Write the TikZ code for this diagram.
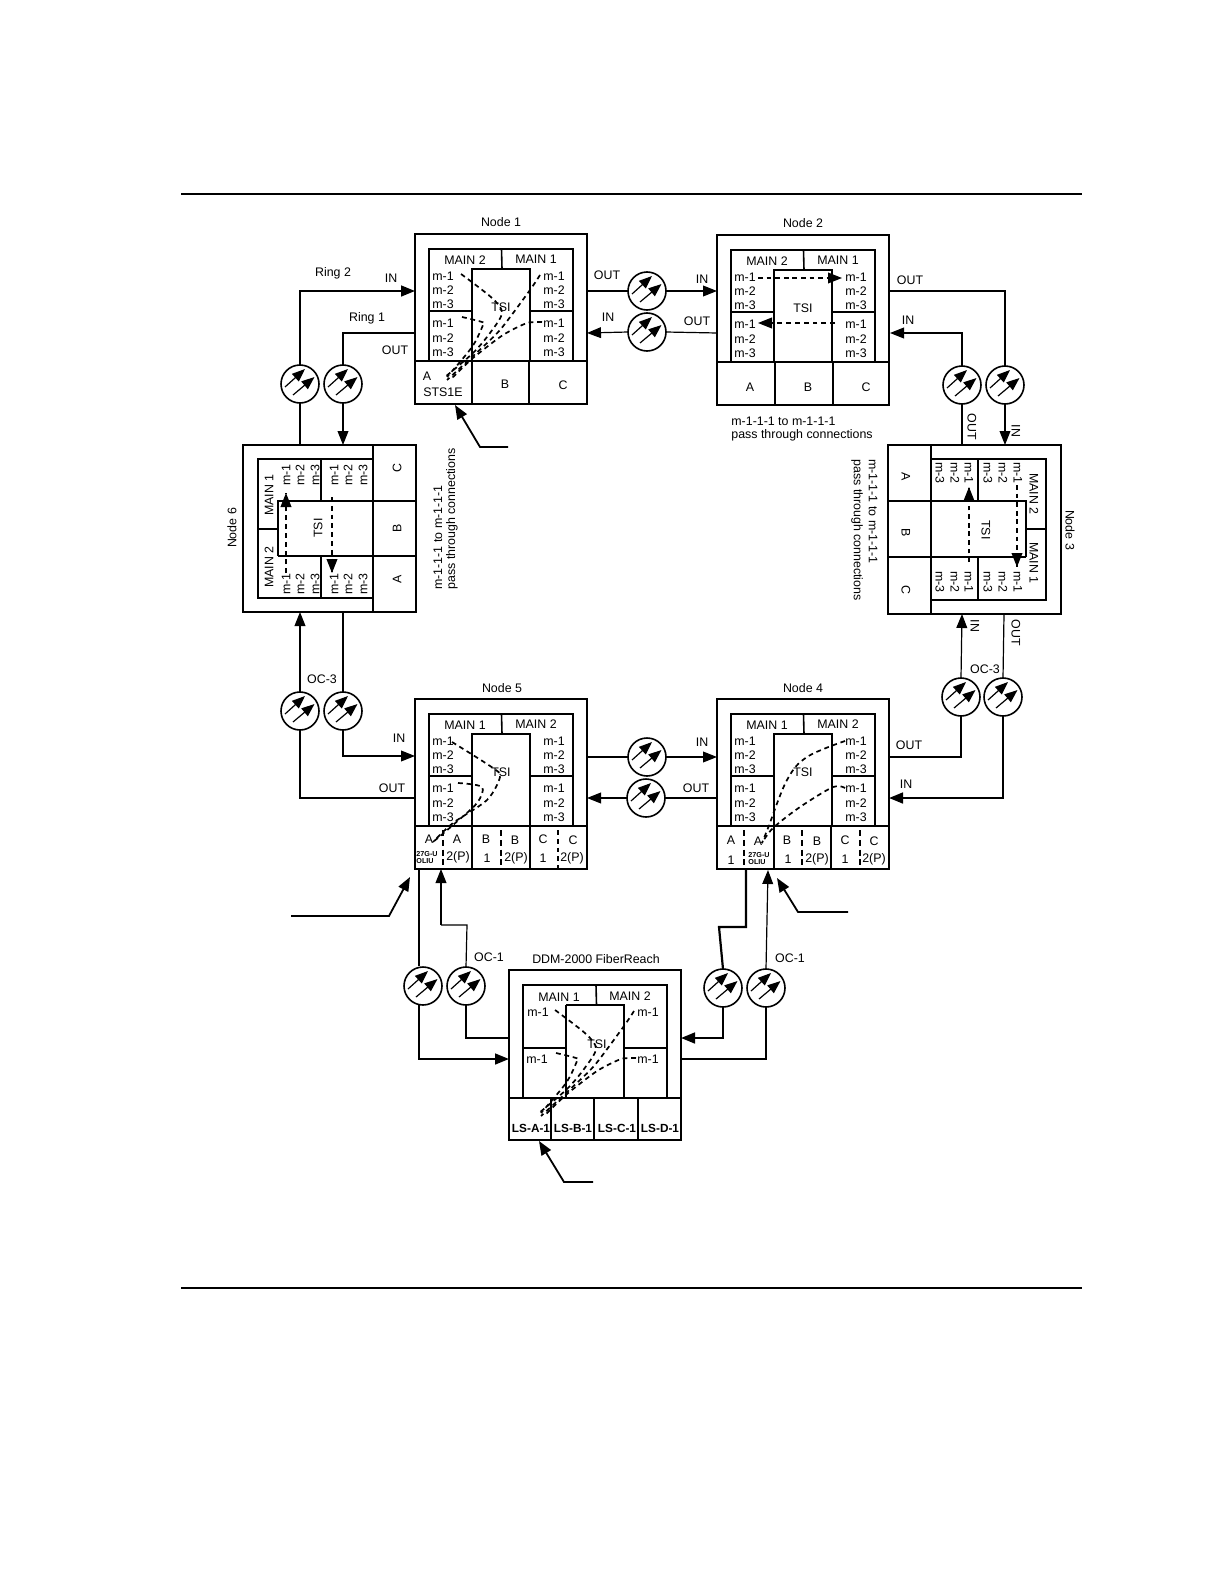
\documentclass[tikz,border=0pt]{standalone}
\usepackage{fontspec}
\setmainfont{Liberation Sans}
\usetikzlibrary{arrows.meta}
\tikzset{
  x=0.5pt,y=-0.5pt,
  lab/.style={inner sep=0pt,font=\fontsize{6.2}{7}\selectfont},
  tiny/.style={inner sep=0pt,font=\fontsize{3.6}{4}\selectfont\bfseries,align=left},
  lsl/.style={inner sep=0pt,font=\fontsize{5.9}{7}\selectfont\bfseries},
  frame/.style={draw,line width=1pt,minimum width=86pt,minimum height=85pt,inner sep=0pt,outer sep=0pt},
  thinln/.style={line width=0.55pt},
  midln/.style={line width=0.8pt},
  boldln/.style={line width=1.1pt},
  optic/.style={draw,circle,line width=0.8pt,minimum size=19pt,inner sep=0pt,outer sep=0pt},
  hd/.style={-{Triangle[length=7pt,width=5.4pt]}},
  rd/.style={{Triangle[length=7pt,width=5.4pt]}-},
  wire/.style={line width=0.6pt},
  heavy/.style={line width=1.1pt},
  dsh/.style={line width=0.85pt,dash pattern=on 2.4pt off 1.9pt},
  dshthin/.style={line width=0.55pt,dash pattern=on 2.4pt off 2pt},
  dshbold/.style={line width=1pt,dash pattern=on 3pt off 1.9pt},
  callout/.style={line width=0.9pt,-{Triangle[length=7pt,width=5.4pt]}}
}
\newcommand{\optic}[3]{%
  \node[optic] (#1) at (#2,#3) {};
  \begin{scope}[shift={(#2,#3)}]
    \draw[line width=0.6pt,-{Triangle[length=6.5pt,width=5pt]}] (-15,3) -- (5,-15);
    \draw[line width=0.6pt,-{Triangle[length=6.5pt,width=5pt]}] (-7,11) -- (14.5,-7);
  \end{scope}}
% standard unit: name, x, y, left main, right main
\newcommand{\unit}[5]{%
  \begin{scope}[shift={(#2,#3)}]
    \node[frame] (#1) at (86,85) {};
    \draw[midln] (14,127) -- (14,15) -- (158,15) -- (158,127);
    \draw[boldln] (0,127) -- (172,127);
    \draw[boldln] (57,127) -- (57,35) -- (115,35) -- (115,127);
    \draw[midln] (14,77) -- (57,77) (115,77) -- (158,77);
    \draw[midln] (86.5,15) -- (87,35);
    \node[lab] (#1ml) at (50,26) {#4};
    \node[lab] (#1mr) at (121,25) {#5};
    \node[lab] (#1t) at (86,73) {TSI};
  \end{scope}}
\newcommand{\mcols}[3]{%
  \begin{scope}[shift={(#2,#3)}]
    \node[lab] (#1a) at (28,42) {m-1};
    \node[lab] (#1b) at (28,56) {m-2};
    \node[lab] (#1c) at (28,70) {m-3};
    \node[lab] (#1d) at (28,89) {m-1};
    \node[lab] (#1e) at (28,104) {m-2};
    \node[lab] (#1f) at (28,118) {m-3};
    \node[lab] (#1g) at (139,42) {m-1};
    \node[lab] (#1h) at (139,56) {m-2};
    \node[lab] (#1i) at (139,70) {m-3};
    \node[lab] (#1j) at (139,89) {m-1};
    \node[lab] (#1k) at (139,104) {m-2};
    \node[lab] (#1l) at (139,118) {m-3};
  \end{scope}}
\newcommand{\fourdash}[2]{%
  \begin{scope}[shift={(#1,#2)}]
    \draw[dsh] plot[smooth,tension=0.5] coordinates {(46,40) (77,64) (87,79) (75,99) (58,119) (30,143)};
    \draw[dsh] plot[smooth,tension=0.5] coordinates {(47,83) (67,88) (68,91) (57,113) (32,143)};
    \draw[dsh] plot[smooth,tension=0.4] coordinates {(125,41) (115,56) (85,96) (57,123) (32,146)};
    \draw[dsh] plot[smooth,tension=0.4] coordinates {(127,88) (112,89) (88,101) (58,124) (35,146)};
  \end{scope}}
\begin{document}
\begin{tikzpicture}
\path[use as bounding box,fill=white] (0,0) rectangle (1224,1584);
% page rules
\coordinate (rta) at (181,194); \coordinate (rtb) at (1082,194);
\coordinate (rba) at (181,1288); \coordinate (rbb) at (1082,1288);
\draw[line width=0.9pt] (rta) -- (rtb);
\draw[line width=0.9pt] (rba) -- (rbb);

%% Node 1
\unit{na}{415}{234}{MAIN 2}{MAIN 1}
\mcols{ma}{415}{234}
\draw[boldln] (472,361) -- (472,403) (529,361) -- (529,403);
\node[lab] (nat) at (501,222) {Node 1};
\node[lab] (naA) at (427,376) {A};
\node[lab] (naS) at (443,392) {STS1E};
\node[lab] (naB) at (505,384) {B};
\node[lab] (naC) at (563,385) {C};
\fourdash{415}{234}

%% Node 2
\unit{nb}{717}{235}{MAIN 2}{MAIN 1}
\mcols{mb}{717}{235}
\draw[boldln] (775,363) -- (775,405);
\draw[midln] (833,363) -- (833,405);
\node[lab] (nbt) at (803,223) {Node 2};
\node[lab] (nbA) at (750,387) {A};
\node[lab] (nbB) at (808,387) {B};
\node[lab] (nbC) at (866,387) {C};
\coordinate (dba) at (758,278); \coordinate (dbb) at (842,278);
\coordinate (dbc) at (835,323); \coordinate (dbd) at (758,323);
\draw[dsh] (dba) -- (dbb);
\draw[-{Triangle[length=7pt,width=5.4pt]},line width=0.6pt] (dbb) ++(-12,0) -- (dbb);
\draw[dshthin] (dbc) -- (dbd);
\draw[-{Triangle[length=7pt,width=5.4pt]},line width=0.6pt] (dbd) ++(12,0) -- (dbd);
\node[lab,anchor=west] (nbn1) at (731,421) {m-1-1-1 to m-1-1-1};
\node[lab,anchor=west] (nbn2) at (731,435) {pass through connections};

%% Node 5
\unit{ne}{415}{699}{MAIN 1}{MAIN 2}
\mcols{me}{415}{699}
\draw[boldln] (472,827) -- (472,869) (530,827) -- (530,869);
\coordinate (d5a) at (443,830); \coordinate (d5b) at (443,869);
\coordinate (d5c) at (501,830); \coordinate (d5d) at (501,869);
\coordinate (d5e) at (558,830); \coordinate (d5f) at (558,869);
\draw[dshbold] (d5a) -- (d5b);
\draw[dshbold] (d5c) -- (d5d);
\draw[dshthin] (d5e) -- (d5f);
\node[lab] (neA) at (429,839) {A};
\node[lab] (neAb) at (457,839) {A};
\node[tiny] (neO) at (427,858) {27G-U\\[-0.5pt]OLIU};
\node[lab] (neP) at (458,857) {2(P)};
\node[lab] (neB) at (486,839) {B};
\node[lab] (ne1) at (487,858) {1};
\node[lab] (neBb) at (515,840) {B};
\node[lab] (neP2) at (516,858) {2(P)};
\node[lab] (neC) at (543,839) {C};
\node[lab] (ne2) at (543,858) {1};
\node[lab] (neCb) at (573,840) {C};
\node[lab] (neP3) at (572,858) {2(P)};
\node[lab] (net) at (502,688) {Node 5};
\draw[dsh] plot[smooth,tension=0.5] coordinates {(452,742) (493,768) (500,777) (487,800) (453,823) (433,842)};
\draw[dsh] plot[smooth,tension=0.5] coordinates {(458,783) (482,787) (477,803) (453,825) (433,842)};

%% Node 4
\unit{nd}{717}{699}{MAIN 1}{MAIN 2}
\mcols{md}{717}{699}
\draw[boldln] (774,827) -- (774,870);
\draw[midln] (831,827) -- (831,870);
\coordinate (d4a) at (744,830); \coordinate (d4b) at (744,870);
\coordinate (d4c) at (802,830); \coordinate (d4d) at (802,870);
\coordinate (d4e) at (860,830); \coordinate (d4f) at (860,870);
\draw[dshbold] (d4a) -- (d4b);
\draw[dshbold] (d4c) -- (d4d);
\draw[dshbold] (d4e) -- (d4f);
\node[lab] (ndA) at (731,840) {A};
\node[lab] (nd1) at (731,860) {1};
\node[lab] (ndAb) at (758,841) {A};
\node[tiny] (ndO) at (759,859) {27G-U\\[-0.5pt]OLIU};
\node[lab] (ndB) at (787,840) {B};
\node[lab] (nd2) at (788,859) {1};
\node[lab] (ndBb) at (817,841) {B};
\node[lab] (ndP) at (817,859) {2(P)};
\node[lab] (ndC) at (845,840) {C};
\node[lab] (nd3) at (845,859) {1};
\node[lab] (ndCb) at (874,841) {C};
\node[lab] (ndP2) at (874,859) {2(P)};
\node[lab] (ndt) at (803,688) {Node 4};
\draw[dsh] plot[smooth,tension=0.6] coordinates {(845,741) (807,757) (787,780) (768,828) (762,843)};
\draw[dsh] plot[smooth,tension=0.5] coordinates {(845,788) (833,787) (800,807) (773,828) (762,843)};

%% FiberReach
\begin{scope}[shift={(509,970)}]
  \node[frame] (nf) at (86,85) {};
  \draw[midln] (14,128) -- (14,15) -- (158,15) -- (158,128);
  \draw[boldln] (0,128) -- (172,128);
  \draw[midln] (57,128) -- (57,35);
  \draw[boldln] (57,35) -- (115,35) -- (115,128);
  \draw[thinln] (14,78) -- (57,78) (115,78) -- (158,78);
  \draw[midln] (87,15) -- (87.5,35);
  \draw[midln] (42,128) -- (42,170) (85,128) -- (85,170) (129,128) -- (129,170);
  \node[lab] (nfml) at (50,27) {MAIN 1};
  \node[lab] (nfmr) at (121,26) {MAIN 2};
  \node[lab] (nft) at (88,74) {TSI};
  \node[lab] (mfa) at (29,42) {m-1};
  \node[lab] (mfb) at (28,89) {m-1};
  \node[lab] (mfc) at (139,42) {m-1};
  \node[lab] (mfd) at (139,89) {m-1};
  \node[lsl] (lsa) at (22,158) {LS-A-1};
  \node[lsl] (lsb) at (64,158) {LS-B-1};
  \node[lsl] (lsc) at (108,158) {LS-C-1};
  \node[lsl] (lsd) at (151,158) {LS-D-1};
\end{scope}
\fourdash{509}{970}
\node[lab] (nflab) at (596,959) {DDM-2000 FiberReach};

%% Node 6 (turned)
\node[frame,minimum width=86.5pt,minimum height=83.5pt] (nc) at (329.5,528.5) {};
\draw[boldln] (373,445) -- (373,612);
\draw[midln] (373,459) -- (258,459) -- (258,598) -- (373,598);
\draw[boldln] (373,501) -- (278,501) -- (278,556);
\draw[midln] (278,556) -- (373,556);
\draw[boldln] (416,501) -- (373,501);
\draw[midln] (416,556) -- (373,556);
\draw[midln] (321,459) -- (321,501) (321,556) -- (321,598);
\draw[midln] (258,529) -- (278,529);
\foreach \nm/\xx/\yy/\tt in {a/286/475/m-1,b/300/475/m-2,c/315/475/m-3,d/334/475/m-1,e/348/475/m-2,f/363/475/m-3,g/286/584/m-1,h/300/584/m-2,i/315/584/m-3,j/334/584/m-1,k/348/584/m-2,l/363/584/m-3}
  {\node[lab,rotate=90] (mc\nm) at (\xx,\yy) {\tt};}
\node[lab,rotate=90] (ncm1) at (269,495) {MAIN 1};
\node[lab,rotate=90] (ncm2) at (269,567) {MAIN 2};
\node[lab,rotate=90] (nct) at (318,528) {TSI};
\node[lab,rotate=90] (ncC) at (397,468) {C};
\node[lab,rotate=90] (ncB) at (397,528) {B};
\node[lab,rotate=90] (ncA) at (397,579) {A};
\node[lab,rotate=90] (ncl) at (232,528) {Node 6};
\node[lab,rotate=90,anchor=west] (ncn1) at (438,590) {m-1-1-1 to m-1-1-1};
\node[lab,rotate=90,anchor=west] (ncn2) at (452,590) {pass through connections};
\coordinate (d6a) at (286,573); \coordinate (d6b) at (286,493);
\coordinate (d6c) at (332,497); \coordinate (d6d) at (332,573);
\draw[dshthin] (d6a) -- (d6b);
\draw[-{Triangle[length=7pt,width=5.4pt]},line width=0.6pt] (d6b) ++(0,12) -- (d6b);
\draw[dshthin] (d6c) -- (d6d);
\draw[-{Triangle[length=7pt,width=5.4pt]},line width=0.6pt] (d6d) ++(0,-12) -- (d6d);

%% Node 3 (turned)
\node[frame,minimum width=86.5pt,minimum height=84.5pt] (nk) at (974.5,529.5) {};
\draw[boldln] (931,445) -- (931,614);
\draw[midln] (931,459) -- (1046,459) -- (1046,600) -- (931,600);
\draw[boldln] (931,501) -- (1026,501) -- (1026,557);
\draw[midln] (1026,557) -- (931,557);
\draw[boldln] (888,501) -- (931,501);
\draw[midln] (888,557) -- (931,557);
\draw[midln] (978,459) -- (978,501) (978,557) -- (978,600);
\draw[midln] (1026,529) -- (1046,529);
\foreach \nm/\xx/\yy/\tt in {a/969/473/m-1,b/955/473/m-2,c/940/473/m-3,d/1018/473/m-1,e/1003/473/m-2,f/988/473/m-3,g/969/582/m-1,h/955/582/m-2,i/940/582/m-3,j/1018/582/m-1,k/1003/582/m-2,l/988/582/m-3}
  {\node[lab,rotate=-90] (mk\nm) at (\xx,\yy) {\tt};}
\node[lab,rotate=-90] (nkm2) at (1034,494) {MAIN 2};
\node[lab,rotate=-90] (nkm1) at (1034,563) {MAIN 1};
\node[lab,rotate=-90] (nkt) at (986,530) {TSI};
\node[lab,rotate=-90] (nkA) at (906,477) {A};
\node[lab,rotate=-90] (nkB) at (906,533) {B};
\node[lab,rotate=-90] (nkC) at (906,590) {C};
\node[lab,rotate=-90] (nkl) at (1070,530) {Node 3};
\node[lab,rotate=-90,anchor=west] (nkn1) at (873,459) {m-1-1-1 to m-1-1-1};
\node[lab,rotate=-90,anchor=west] (nkn2) at (857,459) {pass through connections};
\coordinate (d3a) at (969,562); \coordinate (d3b) at (969,487);
\coordinate (d3c) at (1017,485); \coordinate (d3d) at (1017,567);
\draw[dsh] (d3a) -- (d3b);
\draw[-{Triangle[length=7pt,width=5.4pt]},line width=0.6pt] (d3b) ++(0,12) -- (d3b);
\draw[dsh] (d3c) -- (d3d);
\draw[-{Triangle[length=7pt,width=5.4pt]},line width=0.6pt] (d3d) ++(0,-12) -- (d3d);

%% Optical symbols
\optic{oa}{300}{384}
\optic{ob}{343}{384}
\optic{oc}{647}{291}
\optic{od}{647}{332}
\optic{oe}{962}{385}
\optic{of}{1005}{385}
\optic{og}{300}{711}
\optic{oh}{343}{711}
\optic{oi}{647}{757}
\optic{oj}{646}{798}
\optic{ok}{961}{697}
\optic{ol}{1003}{697}
\optic{om}{423}{986}
\optic{on}{466}{986}
\optic{oo}{723}{988}
\optic{op}{766}{988}

%% Ports
\coordinate (p1in) at (415,291);
\coordinate (p1ou) at (415,333);
\coordinate (p1o) at (587,291);
\coordinate (p1i) at (587,333);
\coordinate (p2i) at (717,291);
\coordinate (p2o) at (717,333);
\coordinate (p2ro) at (890,291);
\coordinate (p2ri) at (890,333);
\coordinate (p6a) at (300,445);
\coordinate (p6b) at (343,445);
\coordinate (p6c) at (300,612);
\coordinate (p6d) at (343,612);
\coordinate (p3a) at (962,445);
\coordinate (p3b) at (1005,445);
\coordinate (p3c) at (962,614);
\coordinate (p3d) at (1004,614);
\coordinate (p5i) at (415,756);
\coordinate (p5o) at (415,798);
\coordinate (p5ro) at (587,757);
\coordinate (p5ri) at (587,798);
\coordinate (p4li) at (717,757);
\coordinate (p4lo) at (717,798);
\coordinate (p4o) at (889,757);
\coordinate (p4i) at (889,798);
\coordinate (p5ba) at (419,869);
\coordinate (p5bb) at (441,869);
\coordinate (p4ba) at (746,870);
\coordinate (p4bb) at (768,870);
\coordinate (jma) at (419,966);
\coordinate (jmb) at (419,1005);
\coordinate (jna) at (441,925);
\coordinate (jnb) at (467,925);
\coordinate (joa) at (746,927);
\coordinate (job) at (719,927);
\coordinate (pfa) at (509,1059);
\coordinate (pfb) at (509,1038);
\coordinate (pfc) at (681,1038);
\coordinate (pfd) at (681,1059);

%% Connectors
\draw[heavy,hd] (oa.north) |- (p1in);
\draw[wire] (ob.north) |- (p1ou);
\draw[wire] (oa.south) -- (p6a);
\draw[wire,hd] (ob.south) -- (p6b);
\draw[wire] (p1o) -- (oc.west);
\draw[wire,hd] (oc.east) -- (p2i);
\draw[wire] (p2o) -- (od.east);
\draw[wire,hd] (od.west) -- (p1i);
\draw[heavy] (p2ro) -| (of.north);
\draw[wire,hd] (oe.north) |- (p2ri);
\draw[heavy] (oe.south) -- (p3a);
\draw[wire,hd] (of.south) -- (p3b);
\draw[wire,hd] (ok.north) -- (p3c);
\draw[wire] (ol.north) -- (p3d);
\draw[heavy] (ok.south) |- (p4o);
\draw[heavy,hd] (ol.south) |- (p4i);
\draw[wire] (p5ro) -- (oi.west);
\draw[wire,hd] (oi.east) -- (p4li);
\draw[wire] (p4lo) -- (oj.east);
\draw[wire,hd] (oj.west) -- (p5ri);
\draw[wire,hd] (oh.south) |- (p5i);
\draw[heavy] (og.south) |- (p5o);
\draw[wire,hd] (og.north) -- (p6c);
\draw[wire] (oh.north) -- (p6d);
\draw[heavy] (p5ba) -- (jma);
\draw[heavy,hd] (jmb) |- (pfa);
\draw[wire,hd] (jna) -- (p5bb);
\draw[wire] (jna) -- (jnb) -- (on.north);
\draw[heavy] (on.south) |- (pfb);
\draw[heavy] (p4ba) -- (joa) -- (job) -- (oo.north);
\draw[heavy,hd] (oo.south) |- (pfc);
\draw[wire,hd] (op.north) -- (p4bb);
\draw[heavy] (op.south) |- (pfd);

%% Connector labels
\node[lab] (la1) at (333,273) {Ring 2};
\node[lab] (la2) at (367,318) {Ring 1};
\node[lab] (la3) at (391,278) {IN};
\node[lab] (la4) at (395,350) {OUT};
\node[lab] (la5) at (607,275) {OUT};
\node[lab] (la6) at (608,317) {IN};
\node[lab] (la7) at (702,279) {IN};
\node[lab] (la8) at (697,321) {OUT};
\node[lab] (la9) at (910,280) {OUT};
\node[lab] (la10) at (908,320) {IN};
\node[lab,rotate=-90] (la11) at (972,427) {OUT};
\node[lab,rotate=-90] (la12) at (1016,431) {IN};
\node[lab,rotate=-90] (la13) at (975,626) {IN};
\node[lab,rotate=-90] (la14) at (1016,633) {OUT};
\node[lab] (la15) at (985,669) {OC-3};
\node[lab] (la16) at (322,679) {OC-3};
\node[lab] (la17) at (399,738) {IN};
\node[lab] (la18) at (392,788) {OUT};
\node[lab] (la19) at (702,742) {IN};
\node[lab] (la20) at (696,788) {OUT};
\node[lab] (la21) at (909,745) {OUT};
\node[lab] (la22) at (906,784) {IN};
\node[lab] (la23) at (489,957) {OC-1};
\node[lab] (la24) at (790,958) {OC-1};

%% Callouts
\coordinate (ca) at (508,447); \coordinate (cab) at (480,447); \coordinate (cat) at (455,405);
\draw[callout] (ca) -- (cab) -- (cat);
\coordinate (cb) at (291,916); \coordinate (cbb) at (389,916); \coordinate (cbt) at (410,877);
\draw[callout] (cb) -- (cbb) -- (cbt);
\coordinate (cc) at (848,912); \coordinate (ccb) at (798,912); \coordinate (cct) at (777,878);
\draw[callout] (cc) -- (ccb) -- (cct);
\coordinate (cd) at (593,1182); \coordinate (cdb) at (564,1182); \coordinate (cdt) at (539,1141);
\draw[callout] (cd) -- (cdb) -- (cdt);
\end{tikzpicture}
\end{document}
